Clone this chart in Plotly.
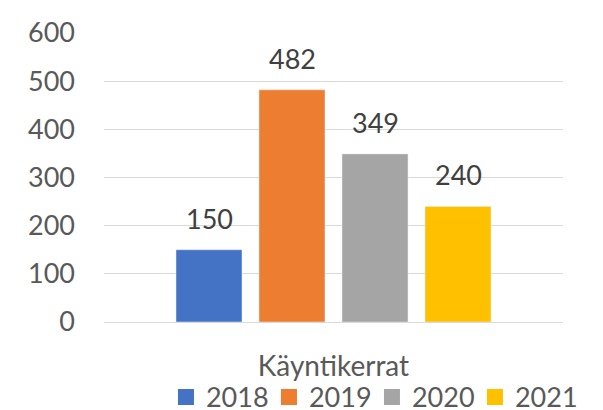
import plotly.graph_objects as go

categories = ["2018", "2019", "2020", "2021"]
values = [150, 482, 349, 240]
colors = ["#4472C4", "#ED7D31", "#A5A5A5", "#FFC000"]
y_ticks = [0, 100, 200, 300, 400, 500, 600]
x_title = "Käyntikerrat"

FONT = "Lato"
fig = go.Figure()
for i, (cat, val, col) in enumerate(zip(categories, values, colors)):
    fig.add_trace(go.Bar(x=[cat], y=[val], name=cat, marker_color=col,
                         width=0.795, showlegend=False, legendgroup=cat))
    fig.add_trace(go.Scatter(x=[None], y=[None], mode="markers", name=cat,
                             marker=dict(symbol="square", size=16, color=col),
                             legendgroup=cat, showlegend=True))
    fig.add_annotation(x=i, y=val, text=str(val), showarrow=False,
                       xref="x", yref="y",
                       yanchor="bottom", yshift=13,
                       font=dict(family=FONT, size=27, color="#404040"))

fig.update_layout(
    width=603, height=410,
    margin=dict(l=104, r=40, t=33, b=88, autoexpand=False),
    plot_bgcolor="white", paper_bgcolor="white",
    barmode="overlay",
    font=dict(family=FONT, size=27, color="#595959"),
    showlegend=True,
    legend=dict(orientation="h", x=0.135, xanchor="left", y=-0.176, yanchor="top",
                font=dict(family=FONT, size=27, color="#595959"),
                itemsizing="trace", tracegroupgap=0,
                entrywidth=58, entrywidthmode="pixels"),
)
fig.update_xaxes(type="category", categoryorder="array", categoryarray=categories,
                 range=[-1.265, 4.265], showticklabels=False, showgrid=False,
                 zeroline=False, showline=False, automargin=False,
                 title=dict(text=x_title, standoff=34,
                            font=dict(family=FONT, size=28, color="#595959")))
fig.update_yaxes(range=[0, 600], tickvals=y_ticks, showgrid=True, gridcolor="#D9D9D9",
                 gridwidth=1.3, zeroline=True, zerolinecolor="#D9D9D9", zerolinewidth=1.3,
                 showline=False, ticks="", ticklabelstandoff=28, automargin=False,
                 tickfont=dict(family=FONT, size=27, color="#595959"))

fig.write_html("out.html", config={"displayModeBar": False},
               post_script="document.body.style.margin='0';")
